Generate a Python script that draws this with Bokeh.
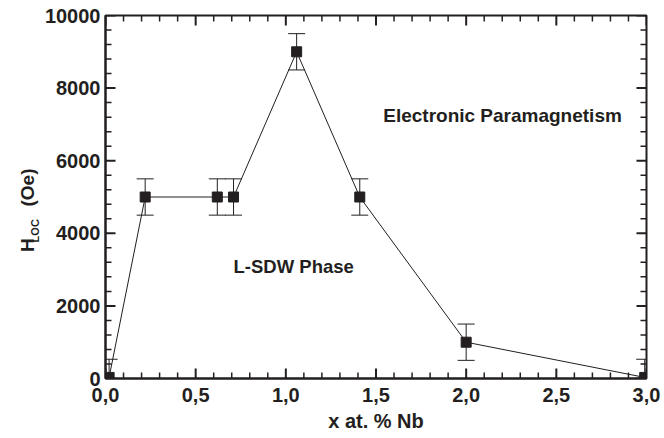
import math
from bokeh.plotting import figure
from bokeh.models import Range1d, FixedTicker, LinearAxis
from bokeh.core.properties import value
from bokeh.embed import file_html
from bokeh.resources import INLINE

# ---- data ----
x_nb = [0.02, 0.22, 0.62, 0.71, 1.06, 1.41, 2.0, 2.99]
h_loc = [30, 5000, 5000, 5000, 9000, 5000, 1000, 30]
h_err = [500, 500, 500, 500, 500, 500, 500, 500]
x_ticks = [0.0, 0.5, 1.0, 1.5, 2.0, 2.5, 3.0]
x_tick_labels = ["0,0", "0,5", "1,0", "1,5", "2,0", "2,5", "3,0"]
x_minor = [round(i * 0.1, 1) for i in range(31)]
y_ticks = [0, 2000, 4000, 6000, 8000, 10000]
y_minor = [i * 400 for i in range(26)]
annotations = ["Electronic Paramagnetism", "L-SDW Phase"]
ann_x = [1.54, 0.71]
ann_y = [7250, 3080]
ann_size = ["19px", "18.5px"]
NB = "\u00a0"
y_title_main = "H" + NB * 6 + "(Oe)" + NB * 5
y_title_sub = "LOC"
y_title_sub_pos = 4390

INK = "#231f20"
FONT = "Liberation Sans"
X0, X1, Y0, Y1 = 0.0, 3.0, 0, 10000
W, H = 664, 438
BL, BR, BT, BB = 105, 18, 15, 60
FW, FH = W - BL - BR, H - BT - BB  # frame size in px

p = figure(width=W, height=H, output_backend="svg", toolbar_location=None,
           x_range=Range1d(X0, X1), y_range=Range1d(Y0, Y1),
           min_border_left=BL, min_border_right=BR, min_border_top=BT,
           min_border_bottom=BB)
p.background_fill_color = "white"
p.border_fill_color = "white"
p.outline_line_color = INK
p.outline_line_width = 2
p.xgrid.visible = False
p.ygrid.visible = False


def base_style(ax):
    ax.axis_line_color = INK
    ax.axis_line_width = 2
    ax.major_tick_line_color = None
    ax.minor_tick_line_color = None
    ax.major_tick_in = 0
    ax.major_tick_out = 0
    ax.minor_tick_in = 0
    ax.minor_tick_out = 0
    ax.major_label_text_font = FONT
    ax.major_label_text_font_style = "bold"
    ax.major_label_text_color = INK
    ax.major_label_text_font_size = "20px"


xa = p.xaxis[0]
xa.ticker = FixedTicker(ticks=x_ticks)
xa.major_label_overrides = dict(zip(x_ticks, x_tick_labels))
ya = p.yaxis[0]
ya.ticker = FixedTicker(ticks=y_ticks)
base_style(xa)
base_style(ya)
xa.major_label_standoff = 9
ya.major_label_standoff = 5
xa.axis_label = "x at. % Nb"
xa.axis_label_text_font = FONT
xa.axis_label_text_font_style = "bold"
xa.axis_label_text_font_size = "20px"
xa.axis_label_text_color = INK
xa.axis_label_standoff = 5

# extra left axis carrying the rotated title "H_LOC (Oe)":
# its single tick label is the subscript, its axis label the main text
ta = LinearAxis(ticker=FixedTicker(ticks=[y_title_sub_pos]),
                major_label_overrides={y_title_sub_pos: y_title_sub})
base_style(ta)
ta.axis_line_color = None
ta.major_label_text_font_size = "11px"
ta.major_label_orientation = math.pi / 2
ta.major_label_standoff = 6
ta.axis_label = y_title_main
ta.axis_label_text_font = FONT
ta.axis_label_text_font_style = "bold"
ta.axis_label_text_font_size = "19px"
ta.axis_label_text_color = INK
ta.axis_label_standoff = -17
p.add_layout(ta, "left")

# inward ticks on all four sides
dx = (X1 - X0) / FW
dy = (Y1 - Y0) / FH
MAJ, MIN = 10, 6
x_minor_only = [t for t in x_minor if t not in x_ticks]
y_minor_only = [t for t in y_minor if t not in y_ticks]
for ticks, ln, lw in ((x_ticks, MAJ, 2), (x_minor_only, MIN, 1.5)):
    p.segment(x0=ticks, y0=[Y0] * len(ticks), x1=ticks, y1=[Y0 + ln * dy] * len(ticks),
              line_color=INK, line_width=lw)
    p.segment(x0=ticks, y0=[Y1] * len(ticks), x1=ticks, y1=[Y1 - ln * dy] * len(ticks),
              line_color=INK, line_width=lw)
for ticks, ln, lw in ((y_ticks, MAJ, 2), (y_minor_only, MIN, 1.5)):
    p.segment(x0=[X0] * len(ticks), y0=ticks, x1=[X0 + ln * dx] * len(ticks), y1=ticks,
              line_color=INK, line_width=lw)
    p.segment(x0=[X1] * len(ticks), y0=ticks, x1=[X1 - ln * dx] * len(ticks), y1=ticks,
              line_color=INK, line_width=lw)

# connecting line
p.line(x_nb, h_loc, line_color=INK, line_width=1)

# error bars
upper = [h + e for h, e in zip(h_loc, h_err)]
lower = [h - e for h, e in zip(h_loc, h_err)]
p.segment(x0=x_nb, y0=lower, x1=x_nb, y1=upper, line_color=INK, line_width=1)
p.scatter(x_nb, upper, marker="dash", size=17, line_color=INK, line_width=1)
p.scatter(x_nb, lower, marker="dash", size=17, line_color=INK, line_width=1)

# data squares
p.scatter(x_nb, h_loc, marker="square", size=10, fill_color=INK, line_color=INK)

# in-plot texts
p.text(x=ann_x, y=ann_y, text=annotations, text_font=value(FONT),
       text_font_style="bold", text_font_size=ann_size, text_color=INK,
       text_align="left", text_baseline="middle")

open("out.html", "w").write(file_html(p, INLINE))
